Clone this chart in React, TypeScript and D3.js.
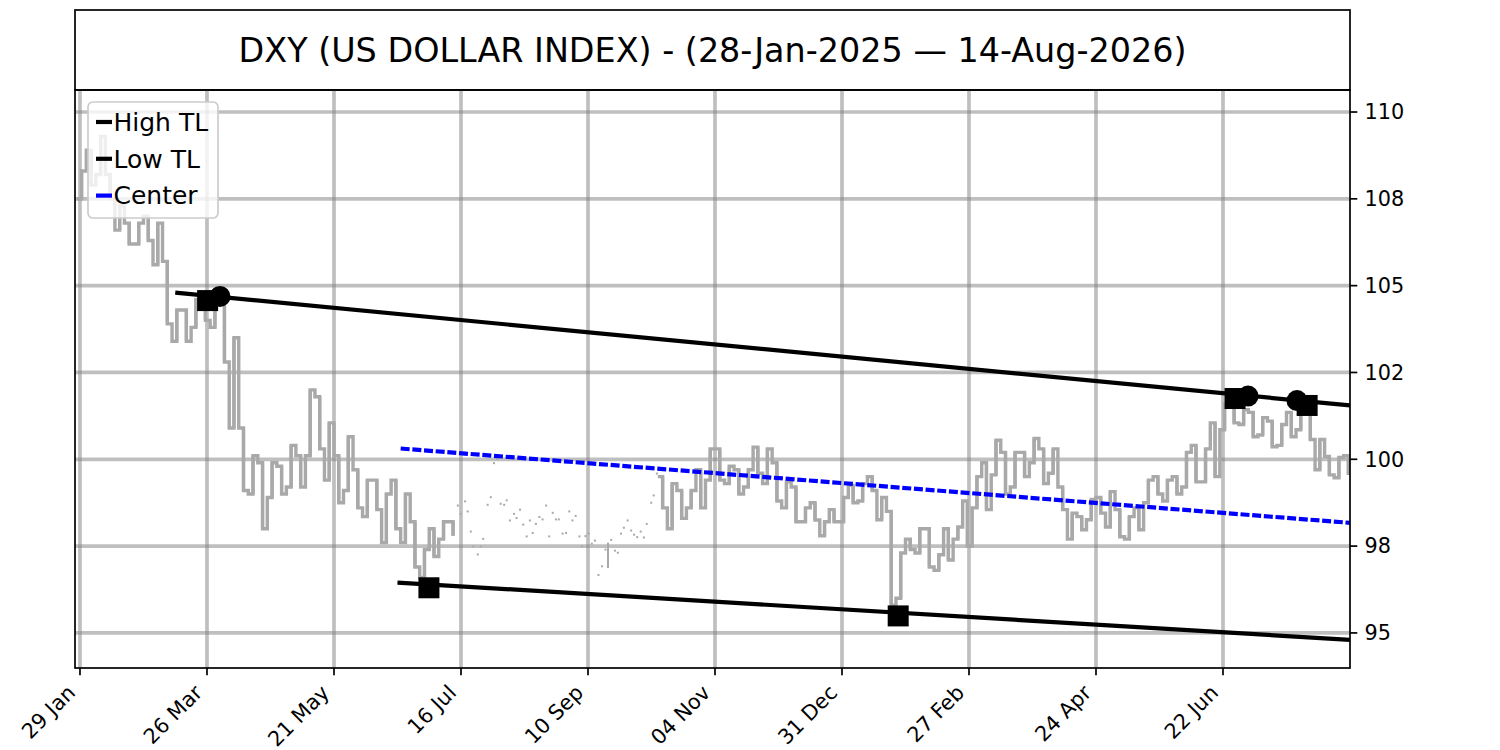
import React from "react";
import * as d3 from "d3";

const TITLE = "DXY (US DOLLAR INDEX) - (28-Jan-2025 — 14-Aug-2026)";

// x axis is a trading-session index, one label every 40 sessions
const xTickBars = [1, 41, 81, 121, 161, 201, 241, 281, 321, 361];
const xTickLabels = ["29 Jan", "26 Mar", "21 May", "16 Jul", "10 Sep", "04 Nov", "31 Dec", "27 Feb", "24 Apr", "22 Jun"];
const yTickValues = [95, 97.5, 100, 102.5, 105, 107.5, 110];
const yTickLabels = ["95", "98", "100", "102", "105", "108", "110"];

// price range per block of 3 sessions (null = only scattered prints)
const barStep = 3;
const priceLow: (number | null)[] = [
  107.5, 107.9, 108.2, 107.5, 106.6, 106.2, 106.2, 106.3, 105.6, 103.9,
  103.4, 103.4, 103.8, 104.0, 103.8, 102.8, 100.9, 99.1, 99.0, 98.0,
  98.9, 99.0, 99.2, 99.2, 100.1, 100.3, 99.4, 98.75, 99.1, 98.6,
  98.35, 98.55, 97.6, 98.0, 97.6, 96.9, 96.6, 97.2, 97.7, 97.8,
  null, null, null, null, null, null, null, null, null, null,
  null, null, null, null, null, null, null, null, null, null,
  null, 98.6, 98.0, 98.3, 98.6, 98.6, 99.4, 99.4, 99.3, 99.0,
  99.2, 99.6, 99.3, 98.8, 98.6, 98.2, 98.2, 98.25, 97.8, 98.2,
  98.2, 98.75, 98.8, 99.1, 98.26, 95.8, 96.0, 97.4, 97.3, 96.9,
  96.8, 97.1, 97.7, 97.5, 98.6, 98.55, 99.55, 99.0, 99.2, 99.5,
  99.9, 99.3, 99.6, 98.55, 97.7, 97.97, 98.26, 98.45, 98.05, 97.77,
  97.7, 97.97, 98.75, 99.0, 98.8, 99.0, 99.2, 99.35, 99.35, 99.5,
  100.85, 101.05, 101.0, 100.65, 100.7, 100.36, 100.4, 100.65, 100.85, 100.57,
  99.7, 99.55, 99.47, 99.55,
];
const priceHigh: (number | null)[] = [
  108.3, 108.9, 109.3, 108.2, 107.3, 106.8, 106.8, 107.0, 106.8, 105.7,
  104.3, 104.3, 104.6, 104.8, 104.9, 104.7, 103.5, 100.9, 100.1, 99.9,
  99.9, 99.8, 100.4, 100.1, 102.0, 101.8, 101.05, 100.1, 100.65, 99.7,
  99.4, 99.4, 99.0, 99.4, 99.0, 98.2, 97.4, 98.0, 98.2, 98.2,
  null, null, null, null, null, null, null, null, null, null,
  null, null, null, null, null, null, null, null, null, null,
  null, 99.5, 99.3, 99.1, 99.1, 99.7, 100.3, 100.3, 99.8, 99.7,
  99.7, 100.35, 100.3, 99.9, 99.35, 99.2, 98.6, 98.75, 98.2, 98.55,
  98.9, 99.25, 99.3, 99.5, 98.9, 98.5, 97.3, 97.7, 98.0, 98.0,
  97.25, 98.0, 98.05, 98.8, 99.5, 99.9, 100.55, 100.2, 100.2, 100.2,
  100.6, 100.3, 100.3, 99.2, 98.45, 98.35, 98.84, 98.9, 99.07, 98.55,
  98.35, 98.6, 99.4, 99.5, 99.4, 99.5, 100.2, 100.4, 100.3, 101.05,
  101.6, 101.7, 101.43, 101.35, 101.2, 101.1, 101.0, 101.35, 101.43, 101.43,
  100.57, 100.08, 100.05, 100.1,
];

// scattered prints in the thin summer stretch
const sparseBar = [
  120.0, 120.9, 122.3, 123.1, 124.1, 124.9, 126.3, 127.2, 128.0, 129.4,
  130.4, 131.4, 132.4, 133.5, 134.6, 135.4, 136.4, 137.7, 138.5, 139.6,
  140.6, 141.7, 142.7, 143.6, 144.6, 145.7, 146.7, 147.8, 148.8, 149.9,
  150.9, 151.8, 153.0, 154.1, 155.1, 156.1, 157.1, 158.3, 159.1, 160.2,
  161.2, 162.2, 163.2, 164.3, 165.4, 166.5, 167.3, 168.3, 169.5, 170.4,
  171.4, 172.3, 173.5, 174.6, 175.5, 176.5, 177.6, 178.6, 179.5, 180.9,
  181.7, 182.7,
];
const sparseLow = [
  98.64, 98.40, 98.76, 98.47, 97.89, 97.46, 97.23, 97.46, 97.68, 98.66,
  98.88, 99.86, 99.99, 98.69, 98.66, 98.79, 98.21, 98.40, 98.28, 98.52,
  98.09, 97.75, 98.21, 97.85, 98.11, 98.31, 98.24, 98.64, 97.75, 98.43,
  98.24, 98.24, 97.83, 97.85, 98.47, 98.21, 98.34, 97.75, 97.46, 97.76,
  97.83, 97.54, 97.63, 96.64, 96.89, 97.37, 96.87, 97.65, 97.34, 97.28,
  97.83, 98.00, 98.21, 97.92, 97.80, 97.73, 97.89, 97.72, 98.11, 98.72,
  98.93, 99.56,
];
const sparseHigh = [
  98.64, 98.40, 98.76, 98.47, 97.89, 97.46, 97.23, 97.46, 97.68, 98.66,
  98.88, 99.86, 99.99, 98.69, 98.66, 98.79, 98.21, 98.40, 98.28, 98.52,
  98.09, 97.75, 98.21, 97.85, 98.11, 98.31, 98.24, 98.64, 97.75, 98.43,
  98.24, 98.24, 97.83, 97.85, 98.47, 98.21, 98.34, 97.75, 97.46, 97.76,
  97.83, 97.54, 97.63, 96.64, 96.89, 97.37, 97.60, 97.65, 97.34, 97.28,
  97.83, 98.00, 98.21, 97.92, 97.80, 97.73, 97.89, 97.72, 98.11, 98.72,
  98.93, 99.56,
];

// trend lines (session index, value)
const highTLBars = [31, 401];
const highTLValues = [104.8, 101.55];
const lowTLBars = [101, 401];
const lowTLValues = [96.45, 94.8];
const centerBars = [102, 401];
const centerValues = [100.31, 98.17];

// pivot markers
const highSquareBars = [41.2, 364.8, 387.5];
const highSquareValues = [104.57, 101.75, 101.55];
const highCircleBars = [45.1, 368.9, 384.3];
const highCircleValues = [104.69, 101.82, 101.69];
const lowSquareBars = [110.9, 258.7];
const lowSquareValues = [96.3, 95.49];

const legendNames = ["High TL", "Low TL", "Center"];
const legendColors = ["black", "black", "blue"];

const W = 1500;
const H = 750;
const left = 75;
const right = 1350;
const top = 90;
const bottom = 668;
const FONT = "DejaVu Sans";
const GRAY = "#a9a9a9";

type Pt = { b: number; v: number } | null;

export default function App() {
  const x = d3.scaleLinear().domain([-0.57, 401]).range([left, right]);
  const y = d3.scaleLinear().domain([93.99, 110.634]).range([bottom, top]);

  const pts: Pt[] = [];
  priceLow.forEach((lo, j) => {
    const hi = priceHigh[j];
    if (lo == null || hi == null) {
      pts.push(null);
      return;
    }
    const a = j % 2 === 0 ? lo : hi;
    const c = j % 2 === 0 ? hi : lo;
    pts.push({ b: j * barStep, v: a }, { b: j * barStep + barStep / 2, v: c });
  });
  const stepLine = d3
    .line<Pt>()
    .defined((d) => d !== null)
    .x((d) => x(d!.b))
    .y((d) => y(d!.v))
    .curve(d3.curveStepAfter);

  const seg = (bars: number[], vals: number[]) =>
    d3.line<number>().x((b) => x(b)).y((_, i) => y(vals[i]))(bars) ?? "";

  const sq = 21;

  return (
    <svg
      width={W}
      height={H}
      style={{ position: "absolute", left: 0, top: 0, background: "white" }}
      fontFamily={FONT}
    >
      <defs>
        <clipPath id="plot">
          <rect x={left} y={top} width={right - left} height={bottom - top} />
        </clipPath>
      </defs>
      <rect width={W} height={H} fill="white" />

      {/* title box */}
      <rect x={left} y={10} width={right - left} height={top - 10} fill="white" stroke="black" strokeWidth={1.7} />
      <text x={(left + right) / 2} y={50} dy="0.35em" textAnchor="middle" fontSize={33.4}>
        {TITLE}
      </text>

      {/* grid */}
      <g stroke="#808080" strokeOpacity={0.5} strokeWidth={3.7}>
        {xTickBars.map((b) => (
          <line key={"gx" + b} x1={x(b)} x2={x(b)} y1={top} y2={bottom} />
        ))}
        {yTickValues.map((v) => (
          <line key={"gy" + v} x1={left} x2={right} y1={y(v)} y2={y(v)} />
        ))}
      </g>

      <g clipPath="url(#plot)">
        {/* session ranges + step path */}
        {priceLow.map((lo, j) => {
          const hi = priceHigh[j];
          if (lo == null || hi == null) return null;
          return (
            <rect
              key={"r" + j}
              x={x(j * barStep + barStep / 2) - 1.6}
              y={y(hi)}
              width={3.2}
              height={y(lo) - y(hi)}
              fill={GRAY}
            />
          );
        })}
        <path d={stepLine(pts) ?? ""} fill="none" stroke={GRAY} strokeWidth={3.4} />
        {sparseBar.map((b, i) => {
          const y1 = y(sparseHigh[i]);
          const y2 = y(sparseLow[i]);
          return (
            <rect
              key={"sp" + i}
              x={x(b) - 1}
              y={Math.min(y1, y2 - 2)}
              width={2}
              height={Math.max(2, y2 - y1)}
              fill={GRAY}
            />
          );
        })}

        <path d={seg(highTLBars, highTLValues)} stroke="black" strokeWidth={4.2} fill="none" />
        <path d={seg(lowTLBars, lowTLValues)} stroke="black" strokeWidth={4.2} fill="none" />
        <path d={seg(centerBars, centerValues)} stroke="blue" strokeWidth={4.2} strokeDasharray="9,2.7" fill="none" />

        {highSquareBars.map((b, i) => (
          <rect key={"hs" + i} x={x(b) - sq / 2} y={y(highSquareValues[i]) - sq / 2} width={sq} height={sq} fill="black" />
        ))}
        {lowSquareBars.map((b, i) => (
          <rect key={"ls" + i} x={x(b) - sq / 2} y={y(lowSquareValues[i]) - sq / 2} width={sq} height={sq} fill="black" />
        ))}
        {highCircleBars.map((b, i) => (
          <circle key={"hc" + i} cx={x(b)} cy={y(highCircleValues[i])} r={10.5} fill="black" />
        ))}
      </g>

      {/* frame */}
      <rect x={left} y={top} width={right - left} height={bottom - top} fill="none" stroke="black" strokeWidth={1.7} />

      {/* x axis */}
      <g>
        {xTickBars.map((b, i) => (
          <g key={"xt" + b}>
            <line x1={x(b)} x2={x(b)} y1={bottom} y2={bottom + 7.3} stroke="black" strokeWidth={1.7} />
            <text
              transform={`translate(${x(b) - 3.5},${bottom + 26}) rotate(-45)`}
              textAnchor="end"
              fontSize={20.8}
            >
              {xTickLabels[i]}
            </text>
          </g>
        ))}
      </g>

      {/* y axis on the right */}
      <g>
        {yTickValues.map((v, i) => (
          <g key={"yt" + v}>
            <line x1={right} x2={right + 7.3} y1={y(v)} y2={y(v)} stroke="black" strokeWidth={1.7} />
            <text x={right + 14.6} y={y(v)} dy="0.35em" fontSize={20.8}>
              {yTickLabels[i]}
            </text>
          </g>
        ))}
      </g>

      {/* legend */}
      <g>
        <rect x={88} y={102} width={130} height={116} rx={5} fill="white" fillOpacity={0.8} stroke="#cccccc" strokeWidth={1.7} />
        {legendNames.map((name, i) => {
          const cy = 122 + i * 36.8;
          return (
            <g key={name}>
              <line x1={96} x2={112} y1={cy} y2={cy} stroke={legendColors[i]} strokeWidth={4.2} />
              <text x={113.5} y={cy} dy="0.35em" fontSize={25}>
                {name}
              </text>
            </g>
          );
        })}
      </g>
    </svg>
  );
}
